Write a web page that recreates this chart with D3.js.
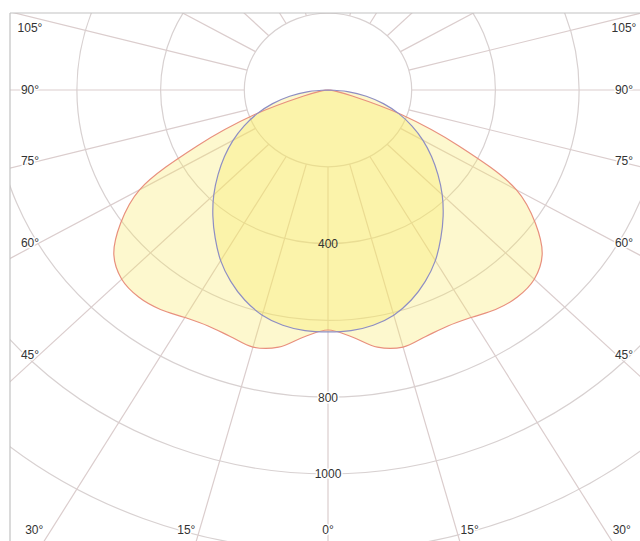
<!DOCTYPE html>
<html>
<head>
<meta charset="utf-8">
<script src="https://cdn.jsdelivr.net/npm/d3@7"></script>
<style>
  body { margin: 0; background: #fff; }
  svg { display: block; }
  text { font-family: "Liberation Sans", Arial, Helvetica, sans-serif; }
</style>
</head>
<body>
<svg id="chart" width="640" height="541"></svg>
<script>
// Photometric intensity distribution (cd/klm), symmetric about 0°
const angles = [0, 5, 10, 15, 20, 25, 30, 35, 40, 45, 50, 55, 60, 65, 70, 75, 80, 85, 90];
const planeC0 = [625, 645, 680, 693, 683, 678, 684, 698, 704, 697, 668, 605, 520, 345, 185, 60, 20, 6, 0];
const planeC90 = [630, 629, 622, 607, 582, 550, 513, 470, 428, 386, 343, 302, 262, 221, 180, 137, 93, 47, 0];

const ringValues = [200, 400, 600, 800, 1000, 1200, 1400, 1600];
const ringLabels = [400, 800, 1000];
const spokeAngles = d3.range(-165, 181, 15);
const sideLabelAngles = [105, 90, 75, 60, 45];
const bottomLabelAngles = [30, 15, 0];

const W = 640, H = 541;
const cx = 328, cy = 90;
const frame = { left: 10, top: 13 };

// radial scales (the diagram is drawn slightly wider than tall)
const rX = d3.scaleLinear().domain([0, 1000]).range([0, 418.5]);
const rY = d3.scaleLinear().domain([0, 1000]).range([0, 384]);

function project(deg, v) {
  const a = deg * Math.PI / 180;
  return [cx + rX(v) * Math.sin(a), cy + rY(v) * Math.cos(a)];
}

const svg = d3.select("#chart");

svg.append("defs").append("clipPath").attr("id", "plot-clip")
  .append("rect")
  .attr("x", frame.left).attr("y", frame.top)
  .attr("width", W - frame.left).attr("height", H - frame.top);

const plot = svg.append("g").attr("clip-path", "url(#plot-clip)");

// concentric intensity rings
plot.append("g").selectAll("ellipse")
  .data(ringValues)
  .join("ellipse")
  .attr("cx", cx).attr("cy", cy)
  .attr("rx", d => rX(d)).attr("ry", d => rY(d))
  .attr("fill", "none")
  .attr("stroke", "#d8d1d1")
  .attr("stroke-width", 1.2);

// angular spokes every 15°, starting from the first ring
plot.append("g").selectAll("line")
  .data(spokeAngles)
  .join("line")
  .attr("x1", d => project(d, ringValues[0])[0])
  .attr("y1", d => project(d, ringValues[0])[1])
  .attr("x2", d => project(d, 4000)[0])
  .attr("y2", d => project(d, 4000)[1])
  .attr("stroke", "#dbcdcd")
  .attr("stroke-width", 1.2);

// build a closed outline from -90° through 0° to +90°
function outline(values) {
  const pts = [];
  for (let i = angles.length - 1; i >= 0; i--) pts.push(project(-angles[i], values[i]));
  for (let i = 1; i < angles.length; i++) pts.push(project(angles[i], values[i]));
  return d3.line().curve(d3.curveCatmullRom.alpha(0.5))(pts) + "Z";
}

const fillColor = "rgb(250,232,92)";
const curves = plot.append("g");
curves.append("path").attr("d", outline(planeC0))
  .attr("fill", fillColor).attr("fill-opacity", 0.3).attr("stroke", "none");
curves.append("path").attr("d", outline(planeC90))
  .attr("fill", fillColor).attr("fill-opacity", 0.32).attr("stroke", "none");
curves.append("path").attr("d", outline(planeC0))
  .attr("fill", "none").attr("stroke", "#e8907e").attr("stroke-width", 1.2);
curves.append("path").attr("d", outline(planeC90))
  .attr("fill", "none").attr("stroke", "#8e8ec4").attr("stroke-width", 1.2);

// frame
svg.append("line").attr("x1", frame.left).attr("y1", frame.top).attr("x2", frame.left).attr("y2", H)
  .attr("stroke", "#c2c2c2").attr("stroke-width", 1.2);
svg.append("line").attr("x1", frame.left).attr("y1", frame.top).attr("x2", W).attr("y2", frame.top)
  .attr("stroke", "#c2c2c2").attr("stroke-width", 1.2);

const labels = svg.append("g")
  .attr("font-size", 12)
  .attr("fill", "#333");

function haloText(sel) {
  sel.attr("stroke", "#ffffff").attr("stroke-width", 3)
    .attr("paint-order", "stroke").attr("stroke-linejoin", "round");
}

// ring value labels along the 0° axis
labels.selectAll("text.ring")
  .data(ringLabels)
  .join("text")
  .attr("class", "ring")
  .attr("x", d => project(0, d)[0])
  .attr("y", d => project(0, d)[1])
  .attr("dy", "0.36em")
  .attr("text-anchor", "middle")
  .text(d => d)
  .filter(d => d > 600)
  .call(haloText);

// angle labels sit at the outer end of each spoke
const labelCol = { left: 30, right: 624 };   // label centres
const spokeEnd = { left: 40, right: 616 };   // where a side spoke reaches its label
const yMin = 28, yMax = 530;
const angleLabelData = [];
sideLabelAngles.forEach(a => {
  ["left", "right"].forEach(side => {
    const rad = a * Math.PI / 180;
    const dx = Math.abs(spokeEnd[side] - cx);
    const v = rX.invert(dx) / Math.sin(rad);
    const y = Math.max(yMin, Math.min(yMax, cy + rY(v) * Math.cos(rad)));
    angleLabelData.push({ a, x: labelCol[side], y });
  });
});
bottomLabelAngles.forEach(a => {
  const rad = a * Math.PI / 180;
  const v = rY.invert(H - cy) / Math.cos(rad);
  const off = rX(v) * Math.sin(rad) + (a === 0 ? 0 : 10);
  const xs = a === 0 ? [cx] : [cx - off, cx + off];
  xs.forEach(x => angleLabelData.push({ a, x: Math.max(labelCol.left, Math.min(labelCol.right, x)), y: yMax }));
});

labels.selectAll("text.angle")
  .data(angleLabelData)
  .join("text")
  .attr("class", "angle")
  .attr("x", d => d.x)
  .attr("y", d => d.y)
  .attr("dy", "0.36em")
  .attr("text-anchor", "middle")
  .text(d => d.a + "°")
  .call(haloText);
</script>
</body>
</html>
